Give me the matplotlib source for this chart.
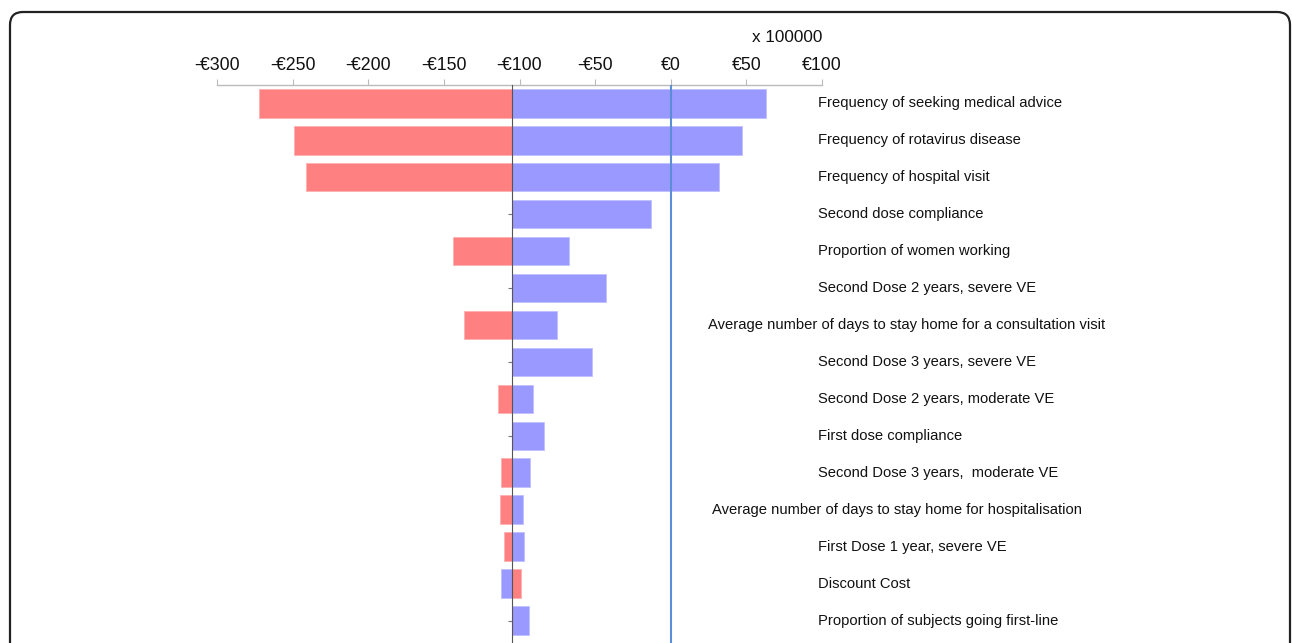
import matplotlib
matplotlib.use("Agg")
import matplotlib.pyplot as plt
from matplotlib.patches import FancyBboxPatch
from matplotlib.transforms import blended_transform_factory
import numpy as np

plt.rcParams['font.family'] = ['Liberation Sans', 'DejaVu Sans']

# ---- data (x 100000 EUR) ----
parameters = [
    "Frequency of seeking medical advice",
    "Frequency of rotavirus disease",
    "Frequency of hospital visit",
    "Second dose compliance",
    "Proportion of women working",
    "Second Dose 2 years, severe VE",
    "Average number of days to stay home for a consultation visit",
    "Second Dose 3 years, severe VE",
    "Second Dose 2 years, moderate VE",
    "First dose compliance",
    "Second Dose 3 years,  moderate VE",
    "Average number of days to stay home for hospitalisation",
    "First Dose 1 year, severe VE",
    "Discount Cost",
    "Proportion of subjects going first-line",
]
base_value = -105
red_values = [-272, -249, -241, -105, -144, -105, -137, -105, -114, -105, -112.5, -113, -110, -99, -105]
blue_values = [63, 47, 32, -13, -67, -43, -75, -52, -91, -84, -93, -98, -97, -112, -94]
tick_values = [-300, -250, -200, -150, -100, -50, 0, 50, 100]
tick_labels = ["-€300", "-€250", "-€200", "-€150", "-€100", "-€50", "€0", "€50", "€100"]
scale_text = "x 100000"

W, H = 1292, 643
fig = plt.figure(figsize=(W / 100, H / 100), dpi=100)
fig.patch.set_facecolor("white")

# axes: x pixel 217..822, y pixel 85..643
ax = fig.add_axes([217 / W, 0, (822 - 217) / W, (H - 85) / H])
y = np.arange(len(parameters))
red = np.array(red_values, dtype=float)
blue = np.array(blue_values, dtype=float)

ax.barh(y, red - base_value, left=base_value, height=0.78, color="#FF8080",
        edgecolor="#FFB0B0", linewidth=0.6, zorder=2)
ax.barh(y, blue - base_value, left=base_value, height=0.78, color="#9999FF",
        edgecolor="#C0C0FF", linewidth=0.6, zorder=2)

ax.axvline(0, color="#5B8ED6", linewidth=1.5, zorder=3)

ax.set_xlim(-300, 100)
ax.set_ylim(14.6, -0.49)

ax.xaxis.tick_top()
ax.set_xticks(tick_values)
ax.set_xticklabels(tick_labels, fontsize=12.8, color="#111111")
ax.tick_params(axis="x", direction="out", length=4, color="#BBBBBB", pad=4)

ax.spines["top"].set_color("#BBBBBB")
ax.spines["top"].set_linewidth(1.0)
ax.spines["right"].set_visible(False)
ax.spines["bottom"].set_visible(False)
ax.spines["left"].set_position(("data", base_value))
ax.spines["left"].set_color("#555555")
ax.spines["left"].set_linewidth(0.8)
ax.spines["left"].set_zorder(4)
ax.set_yticks(y)
ax.set_yticklabels([])
ax.tick_params(axis="y", direction="out", length=3, color="#777777")
ax.patch.set_alpha(0)

# row labels
trans = blended_transform_factory(fig.transFigure, ax.transData)
special_x = {6: 708, 11: 712}
for i, name in enumerate(parameters):
    xp = special_x.get(i, 818)
    ax.text(xp / W, i, name, transform=trans, ha="left", va="center",
            fontsize=10.65, color="#111111", clip_on=False)

fig.text(787 / W, 1 - 38 / H, scale_text, ha="center", va="center",
         fontsize=12.3, color="#111111")

# rounded frame
frame = FancyBboxPatch((10, -60), 1280, (H - 12) + 60,
                       boxstyle="round,pad=0,rounding_size=13",
                       transform=None, facecolor="none",
                       edgecolor="#222222", linewidth=1.6)
fig.patches.append(frame)

fig.savefig("out.png", dpi=100)
